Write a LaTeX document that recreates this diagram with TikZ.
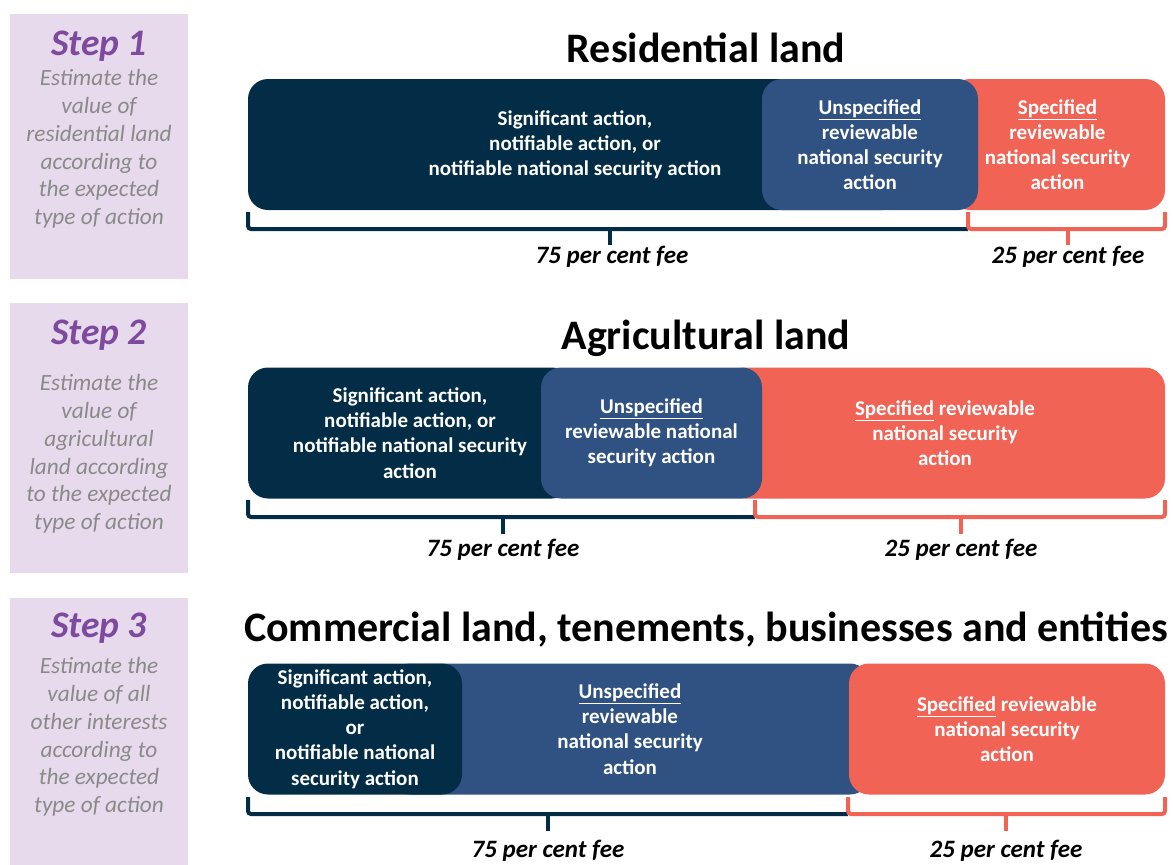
\documentclass[tikz,border=0pt]{standalone}
\usepackage{fontspec}
\setmainfont{Carlito}
\usepackage{xcolor}
\usetikzlibrary{positioning}

\definecolor{navy}{HTML}{032C46}
\definecolor{midblue}{HTML}{2F5282}
\definecolor{coral}{HTML}{F06355}
\definecolor{lavender}{HTML}{E6DAEC}
\definecolor{steppurple}{HTML}{7E4A9E}
\definecolor{stepgrey}{HTML}{8A8A8A}

\newcommand\titlefont{\bfseries\fontsize{42}{48}\selectfont}
\newcommand\barfont{\bfseries\fontsize{21}{25.2}\selectfont}
\newcommand\feefont{\bfseries\itshape\fontsize{25}{30}\selectfont}

\tikzset{
  bar/.style={rounded corners=20pt, inner sep=0pt, minimum height=131pt,
    align=center, text=white, font=\barfont},
  navybar/.style={bar, fill=navy},
  bluebar/.style={bar, fill=midblue},
  coralbar/.style={bar, fill=coral},
  panel/.style={fill=lavender, inner sep=0pt, minimum width=178pt},
  steplabel/.style={text=steppurple, font=\bfseries\itshape\fontsize{37.5}{44}\selectfont},
  stepnote/.style={text=stepgrey, align=center, font=\itshape\fontsize{23.3}{27.8}\selectfont},
  landtitle/.style={font=\titlefont},
  brace/.style={line width=4pt, rounded corners=3pt},
  fee/.style={font=\feefont}
}

\begin{document}
\begin{tikzpicture}[x=1pt,y=-1pt]
\useasboundingbox (0,0) rectangle (1173,865);

% step panels
\node[panel, minimum height=265pt] (p1) at (99,146.5) {};
\node[panel, minimum height=270pt] (p2) at (99,437.5) {};
\node[panel, minimum height=268pt] (p3) at (99,731.5) {};
\node[steplabel] (s1) at (99,46) {Step 1};
\node[steplabel] (s2) at (99,335) {Step 2};
\node[steplabel] (s3) at (99,628) {Step 3};
\node[stepnote, anchor=north] (n1) at (99,66) {Estimate the\\value of\\residential land\\according to\\the expected\\type of action};
\node[stepnote, anchor=north] (n2) at (99,371) {Estimate the\\value of\\agricultural\\land according\\to the expected\\type of action};
\node[stepnote, anchor=north] (n3) at (99,654) {Estimate the\\value of all\\other interests\\according to\\the expected\\type of action};

% residential land
\node[landtitle] (t1) at (706,48) {Residential land};
\node[navybar, minimum width=654pt] (a1) at (575,144.5) {Significant action,\\notifiable action, or\\notifiable national security action};
\node[coralbar, minimum width=215pt] (c1) at (1057.5,144.5) {\underline{Specified}\\reviewable\\national security\\action};
\node[bluebar, minimum width=216pt] (b1) at (870,144.5) {\underline{Unspecified}\\reviewable\\national security\\action};
\draw[brace, navy] (248,212) -- (248,229) -- (968,229);
\draw[brace, navy] (610,229) -- (610,245);
\draw[brace, coral] (968,212) -- (968,229) -- (1165,229) -- (1165,212);
\draw[brace, coral] (1068,229) -- (1068,245);
\node[fee] (f1) at (612,257) {75 per cent fee};
\node[fee] (g1) at (1068,257) {25 per cent fee};

% agricultural land
\node[landtitle] (t2) at (706,338) {Agricultural land};
\node[navybar, minimum width=324pt] (a2) at (410,433) {Significant action,\\notifiable action, or\\notifiable national security\\action};
\node[coralbar, minimum width=440pt] (c2) at (945,433) {\underline{Specified} reviewable\\national security\\action};
\node[bluebar, minimum width=221pt] (b2) at (651.5,433) {\underline{Unspecified}\\reviewable national\\security action};
\draw[brace, navy] (248,500) -- (248,517) -- (755,517);
\draw[brace, navy] (503,517) -- (503,534);
\draw[brace, coral] (755,500) -- (755,517) -- (1165,517) -- (1165,500);
\draw[brace, coral] (961,517) -- (961,534);
\node[fee] (f2) at (503,550) {75 per cent fee};
\node[fee] (g2) at (961,550) {25 per cent fee};

% commercial land and the rest
\node[landtitle] (t3) at (706,630) {Commercial land, tenements, businesses and entities};
\node[bluebar, minimum width=480pt] (b3) at (630,729) {\underline{Unspecified}\\reviewable\\national security\\action};
\node[navybar, minimum width=214pt] (a3) at (355,729) {Significant action,\\notifiable action,\\or\\notifiable national\\security action};
\node[coralbar, minimum width=316pt] (c3) at (1007,729) {\underline{Specified} reviewable\\national security\\action};
\draw[brace, navy] (248,797) -- (248,814) -- (848,814);
\draw[brace, navy] (548,814) -- (548,831);
\draw[brace, coral] (848,797) -- (848,814) -- (1165,814) -- (1165,797);
\draw[brace, coral] (1006,814) -- (1006,831);
\node[fee] (f3) at (548,851) {75 per cent fee};
\node[fee] (g3) at (1006,851) {25 per cent fee};
\end{tikzpicture}
\end{document}
